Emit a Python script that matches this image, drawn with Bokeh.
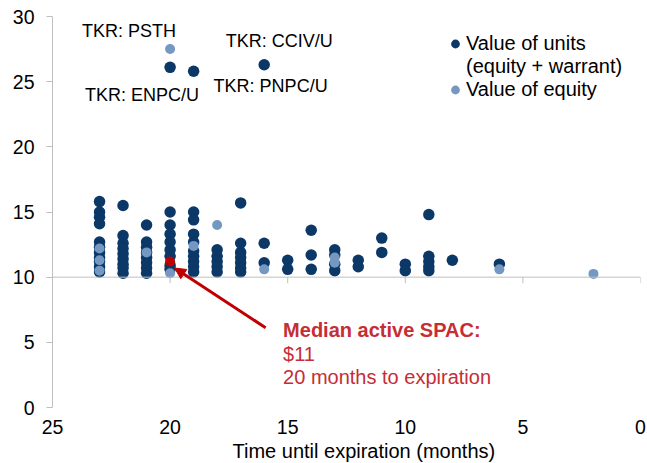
from bokeh.plotting import figure
from bokeh.models import (Range1d, Span, Label, Arrow, NormalHead, Legend,
                          LegendItem, FixedTicker, Title)
from bokeh.embed import file_html
from bokeh.resources import INLINE

# ---------------- data ----------------
x_ticks = [25, 20, 15, 10, 5, 0]
y_ticks = [0, 5, 10, 15, 20, 25, 30]

# Value of units (equity + warrant): months to expiration / value ($)
units_months = (
    [23] * 11 + [22] * 9 + [21] * 8 + [20] * 9 + [19] * 10 + [18] * 5 +
    [17] * 7 + [16] * 3 + [15] * 2 + [14] * 3 + [13] * 4 + [12] * 2 +
    [11] * 2 + [10] * 2 + [9] * 5 + [8] * 1 + [6] * 1
)
units_values = [
    15.8, 15.0, 14.6, 14.1, 12.7, 12.3, 11.9, 11.5, 11.2, 10.8, 10.4,   # 23
    15.5, 13.2, 12.6, 12.2, 11.8, 11.4, 11.0, 10.7, 10.3,               # 22
    14.0, 12.7, 12.3, 11.9, 11.5, 11.1, 10.7, 10.3,                     # 21
    26.1, 15.0, 14.0, 13.3, 12.7, 12.1, 11.6, 10.9, 10.6,               # 20
    25.8, 15.0, 14.4, 13.3, 12.7, 12.0, 11.6, 11.2, 10.8, 10.4,         # 19
    12.1, 11.6, 11.2, 10.8, 10.4,                                       # 18
    15.7, 12.6, 11.9, 11.5, 11.1, 10.7, 10.4,                           # 17
    26.3, 12.6, 11.1,                                                   # 16
    11.3, 10.6,                                                         # 15
    13.6, 11.7, 10.6,                                                   # 14
    12.1, 11.7, 11.0, 10.5,                                             # 13
    11.3, 10.8,                                                         # 12
    13.0, 11.9,                                                         # 11
    11.0, 10.5,                                                         # 10
    14.8, 11.6, 11.2, 10.8, 10.5,                                       # 9
    11.3,                                                               # 8
    11.0,                                                               # 6
]

# Value of equity
equity_months = [23, 23, 23, 21, 20, 20, 19, 18, 16, 13, 13, 6, 2]
equity_values = [12.2, 11.3, 10.5, 11.9, 27.5, 10.3, 12.4, 14.0, 10.6,
                 11.5, 11.1, 10.6, 10.25]

# Median active SPAC
median_month = [20]
median_value = [11.2]

# Ticker call-outs: (text, month, value, x_offset_px, y_offset_px)
callouts = [
    ("TKR: PSTH", 20, 27.5, -41, 18),
    ("TKR: ENPC/U", 20, 26.1, -28, -28),
    ("TKR: CCIV/U", 16, 26.3, 15, 24),
    ("TKR: PNPC/U", 19, 25.8, 77, -15),
]

DARK = "#0b3867"
LIGHT = "#7598c2"
RED = "#c00000"
TXT_RED = "#c62d35"
GRAY = "#bfbfbf"
FONT = "Liberation Sans"

# ---------------- figure ----------------
p = figure(width=647, height=463, x_range=Range1d(25, 0), y_range=Range1d(0, 30),
           output_backend="svg", toolbar_location=None,
           min_border_left=52, min_border_right=7, min_border_top=16,
           min_border_bottom=56)
p.outline_line_color = None
p.xgrid.visible = False
p.ygrid.visible = False
p.background_fill_color = "white"
p.border_fill_color = "white"

# y axis
p.yaxis.ticker = FixedTicker(ticks=y_ticks)
p.yaxis.axis_line_color = GRAY
p.yaxis.major_tick_line_color = GRAY
p.yaxis.major_tick_out = 6
p.yaxis.major_tick_in = 0
p.yaxis.minor_tick_line_color = None
p.yaxis.major_label_standoff = 12
p.yaxis.major_label_text_font = FONT
p.yaxis.major_label_text_font_size = "19.5px"
p.yaxis.major_label_text_color = "black"

# x axis (labels at bottom, line drawn at y = 10)
p.xaxis.ticker = FixedTicker(ticks=x_ticks)
p.xaxis.axis_line_color = None
p.xaxis.major_tick_line_color = None
p.xaxis.minor_tick_line_color = None
p.xaxis.major_tick_out = 0
p.xaxis.major_tick_in = 0
p.xaxis.major_label_standoff = 12
p.xaxis.major_label_text_font = FONT
p.xaxis.major_label_text_font_size = "19.5px"
p.xaxis.major_label_text_color = "black"

p.add_layout(Span(location=10, dimension="width", line_color=GRAY, line_width=1))
p.segment(x0=x_ticks, y0=[10] * len(x_ticks), x1=x_ticks,
          y1=[10 - 0.46] * len(x_ticks), line_color=GRAY, line_width=1)

# x axis title
xtitle = Title(text="Time until expiration (months)", align="left", offset=180,
               standoff=2, text_font=FONT, text_font_size="20px",
               text_font_style="normal", text_color="black")
p.add_layout(xtitle, "below")

# data
r_units = p.scatter(units_months, units_values, size=11.5, fill_color=DARK,
                    line_color=DARK, line_width=0)
r_equity = p.scatter(equity_months, equity_values, size=10, fill_color=LIGHT,
                     line_color=LIGHT, line_width=0)
p.scatter(median_month, median_value, size=10, fill_color=RED, line_color=RED,
          line_width=0)
r_blank = p.scatter(x=[], y=[], size=0, fill_alpha=0, line_alpha=0)

# call-outs
for text, mx, my, dx, dy in callouts:
    p.add_layout(Label(x=mx, y=my, x_offset=dx, y_offset=dy, text=text,
                       text_align="center", text_baseline="middle",
                       text_font=FONT, text_font_size="18px",
                       text_color="black"))

# median annotation
p.add_layout(Arrow(end=NormalHead(size=11, fill_color=RED, line_color=RED),
                   x_start=15.94, y_start=6.12, x_end=19.81, y_end=10.7,
                   line_color=RED, line_width=3))
for txt, dy, style in [("Median active SPAC:", -68, "bold"),
                       ("$11", -92, "normal"),
                       ("20 months to expiration", -115, "normal")]:
    p.add_layout(Label(x=median_month[0], y=median_value[0], x_offset=113,
                       y_offset=dy, text=txt, text_align="left",
                       text_baseline="middle", text_font=FONT,
                       text_font_size="20px", text_font_style=style,
                       text_color=TXT_RED))

# legend
legend = Legend(items=[
    LegendItem(label="Value of units", renderers=[r_units]),
    LegendItem(label="(equity + warrant)", renderers=[r_blank]),
    LegendItem(label="Value of equity", renderers=[r_equity]),
], location=(392, 306))
legend.glyph_width = 22
legend.glyph_height = 23
legend.label_height = 23
legend.label_standoff = 0
legend.padding = 0
legend.spacing = 0
legend.margin = 0
legend.border_line_color = None
legend.background_fill_alpha = 0
legend.label_text_font = FONT
legend.label_text_font_size = "20px"
legend.label_text_color = "black"
p.add_layout(legend)

open("out.html", "w").write(file_html(p, INLINE))
